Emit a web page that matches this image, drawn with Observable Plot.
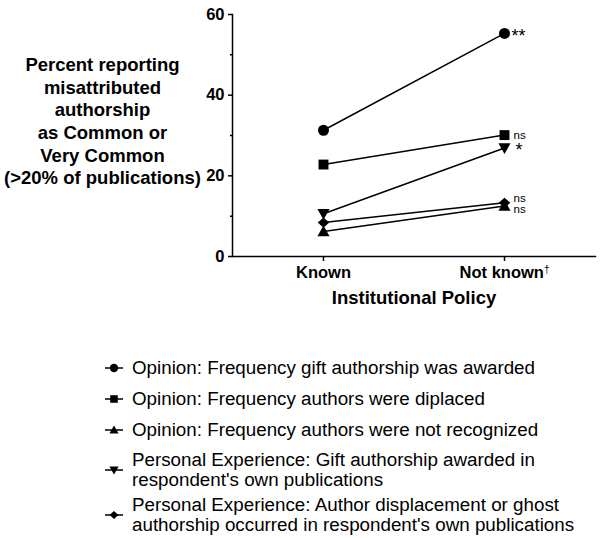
<!DOCTYPE html>
<html><head><meta charset="utf-8">
<script src="https://cdn.jsdelivr.net/npm/d3@7"></script>
<script src="https://cdn.jsdelivr.net/npm/@observablehq/plot@0.6"></script>
<style>
body{margin:0;background:#fff;font-family:"Liberation Sans",Arial,sans-serif;}
#wrap{position:relative;width:600px;height:538px;overflow:hidden;}
#legend{position:absolute;left:104px;top:358px;font-size:18.8px;line-height:20px;color:#000;}
.row{display:flex;align-items:center;}
.row svg{flex:none;margin-right:8px;}
</style></head><body><div id="wrap"><div id="chart"></div><div id="legend"></div></div>
<script>
const categories = ["Known", "Not known"];
const footnote = "†";
const series = [
  "Opinion: Frequency gift authorship was awarded",
  "Opinion: Frequency authors were diplaced",
  "Opinion: Frequency authors were not recognized",
  "Personal Experience: Gift authorship awarded in respondent's own publications",
  "Personal Experience: Author displacement or ghost authorship occurred in respondent's own publications"
];
const legendLabels = [
  "Opinion: Frequency gift authorship was awarded",
  "Opinion: Frequency authors were diplaced",
  "Opinion: Frequency authors were not recognized",
  "Personal Experience: Gift authorship awarded in\nrespondent's own publications",
  "Personal Experience: Author displacement or ghost\nauthorship occurred in respondent's own publications"
];
const knownValues = [31.3, 22.8, 6.2, 10.6, 8.4];
const notKnownValues = [55.3, 30.1, 12.5, 26.9, 13.3];
const significance = ["**", "ns", "ns", "*", "ns"];
const yTicks = [0, 20, 40, 60];
const yMinorTicks = [10, 30, 50];
const yLabel = "Percent reporting\nmisattributed\nauthorship\nas Common or\nVery Common\n(>20% of publications)";
const xLabel = "Institutional Policy";

const data = series.flatMap((s, i) => [
  {series: s, policy: categories[0], value: knownValues[i]},
  {series: s, policy: categories[1], value: notKnownValues[i]}
]);

// custom symbols (sized relative to r)
const rad = size => Math.sqrt(size / Math.PI);
const symCircle = {draw(c, size){ const k = rad(size); c.moveTo(k, 0); c.arc(0, 0, k, 0, 2*Math.PI); }};
const symSquare = {draw(c, size){ const k = rad(size)*0.9; c.rect(-k, -k, 2*k, 2*k); }};
const symUp = {draw(c, size){ const k = rad(size); c.moveTo(0, -1.1*k); c.lineTo(1.1*k, 0.85*k); c.lineTo(-1.1*k, 0.85*k); c.closePath(); }};
const symDown = {draw(c, size){ const k = rad(size); c.moveTo(0, 1.1*k); c.lineTo(1.1*k, -0.85*k); c.lineTo(-1.1*k, -0.85*k); c.closePath(); }};
const symDiamond = {draw(c, size){ const k = rad(size); c.moveTo(0, -0.95*k); c.lineTo(1.05*k, 0); c.lineTo(0, 0.95*k); c.lineTo(-1.05*k, 0); c.closePath(); }};
const symbols = [symCircle, symSquare, symUp, symDown, symDiamond];

const annotStyle = [
  {dx: 7, dy: 2.5, fontSize: 18},
  {dx: 9, dy: 0, fontSize: 11.5},
  {dx: 9, dy: 3, fontSize: 11.5},
  {dx: 11, dy: 2.5, fontSize: 18},
  {dx: 9, dy: -5, fontSize: 11.5}
];

const annotations = series.map((s, i) => ({series: s, policy: categories[1], value: notKnownValues[i], label: significance[i]}));

const plot = Plot.plot({
  width: 600, height: 330,
  marginLeft: 232, marginRight: 5, marginTop: 14, marginBottom: 74,
  style: {fontFamily: '"Liberation Sans", Arial, sans-serif', fontSize: "16.5px", fontWeight: "bold", color: "black", background: "white"},
  x: {type: "point", domain: categories, padding: 0.5, axis: null},
  y: {domain: [0, 60], axis: null},
  symbol: {domain: series, range: symbols},
  marks: [
    Plot.axisY({ticks: yTicks, tickSize: 4, tickPadding: 4, tickFormat: d => String(d), label: null, strokeWidth: 1.5}),
    Plot.axisY({ticks: yMinorTicks, tickSize: 2, tickFormat: () => "", label: null, strokeWidth: 1.5}),
    Plot.axisX({tickSize: 5, tickPadding: 5, label: null, strokeWidth: 1.5}),
    Plot.frame({anchor: "left", strokeWidth: 1.5}),
    Plot.frame({anchor: "bottom", strokeWidth: 1.5}),
    Plot.line(data, {x: "policy", y: "value", z: "series", stroke: "black", strokeWidth: 1.5}),
    Plot.dot(data, {x: "policy", y: "value", symbol: "series", fill: "black", stroke: "none", r: 5.5}),
    ...annotations.map((a, i) => Plot.text([a], {x: "policy", y: "value", text: "label", textAnchor: "start", fontWeight: "normal", ...annotStyle[i]})),
    Plot.text([yLabel], {frameAnchor: "left", dx: -130, dy: -15, textAnchor: "middle", lineHeight: 1.22, fontSize: 18.5, fontWeight: "bold"}),
    Plot.text([xLabel], {frameAnchor: "bottom", dy: 47, textAnchor: "middle", fontSize: 18.5, fontWeight: "bold"})
  ]
});
document.getElementById("chart").appendChild(plot);

// superscript footnote marker on "Not known"
d3.select(plot).selectAll("text").filter(function(){ return this.textContent === categories[1]; })
  .append("tspan").attr("dy", "-0.5em").attr("font-size", "10px").attr("font-weight", "normal").attr("fill", "black").text(footnote);

// legend
const legend = d3.select("#legend");
series.forEach((s, i) => {
  const row = legend.append("div").attr("class", "row").style("margin-bottom", (i < 2 ? 11 : i === 2 ? 10 : 5) + "px");
  const svg = row.append("svg").attr("width", 20).attr("height", 14);
  svg.append("line").attr("x1", 1).attr("x2", 19).attr("y1", 7).attr("y2", 7).attr("stroke", "black").attr("stroke-width", 1.5);
  svg.append("path").attr("transform", "translate(10,7)").attr("d", d3.symbol(symbols[i], Math.PI * 4.2 * 4.2)()).attr("fill", "black");
  const t = row.append("div");
  legendLabels[i].split("\n").forEach(line => t.append("div").text(line));
});
</script>
</body></html>
